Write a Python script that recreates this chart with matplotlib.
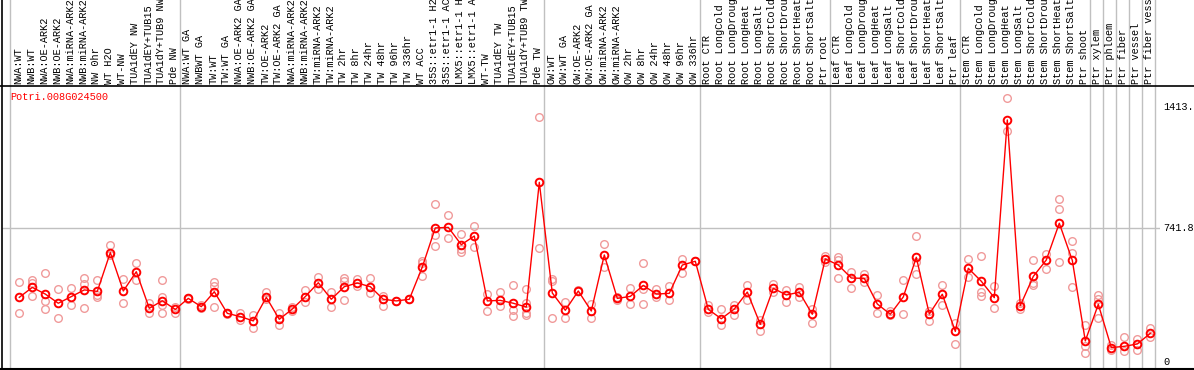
import matplotlib
matplotlib.use('Agg')
import matplotlib.pyplot as plt
from matplotlib.lines import Line2D
import matplotlib.transforms as mtrans

labels = [
    "NWA:WT", "NWB:WT", "NWA:OE-ARK2", "NWB:OE-ARK2", "NWA:miRNA-ARK2", "NWB:miRNA-ARK2",
    "NW 0hr", "WT H2O", "WT-NW", "TUA1dEY NW", "TUA1dEY+TUB15", "TUA1dY+TUB9 NW", "Pde NW",
    "NWA:WT GA", "NWBWT GA", "TW:WT", "TW:WT GA", "NWA:OE-ARK2 GA", "NWB:OE-ARK2 GA",
    "TW:OE-ARK2", "TW:OE-ARK2 GA", "NWA:miRNA-ARK2", "NWB:miRNA-ARK2", "TW:miRNA-ARK2",
    "TW:miRNA-ARK2", "TW 2hr", "TW 8hr", "TW 24hr", "TW 48hr", "TW 96hr", "TW 336hr",
    "WT ACC", "35S::etr1-1 H2", "35S::etr1-1 AC", "LMX5::etr1-1 H", "LMX5::etr1-1 A",
    "WT-TW", "TUA1dEY TW", "TUA1dEY+TUB15", "TUA1dY+TUB9 TW", "Pde TW",
    "OW:WT", "OW:WT GA", "OW:OE-ARK2", "OW:OE-ARK2 GA", "OW:miRNA-ARK2", "OW:miRNA-ARK2",
    "OW 2hr", "OW 8hr", "OW 24hr", "OW 48hr", "OW 96hr", "OW 336hr",
    "Root CTR", "Root LongCold", "Root LongDroug", "Root LongHeat", "Root LongSalt",
    "Root ShortCold", "Root ShortDrou", "Root ShortHeat", "Root ShortSalt", "Ptr root",
    "Leaf CTR", "Leaf LongCold", "Leaf LongDroug", "Leaf LongHeat", "Leaf LongSalt",
    "Leaf ShortCold", "Leaf ShortDrou", "Leaf ShortHeat", "Leaf ShortSalt", "Ptr leaf",
    "Stem CTR", "Stem LongCold", "Stem LongDroug", "Stem LongHeat", "Stem LongSalt",
    "Stem ShortCold", "Stem ShortDrou", "Stem ShortHeat", "Stem ShortSalt", "Ptr shoot",
    "Ptr xylem", "Ptr phloem", "Ptr fiber", "Ptr vessel", "Ptr fiber vess",
]

means = [
    359, 414, 377, 326, 363, 400, 392, 607, 394, 501, 298, 340, 292,
    353, 307, 390, 270, 252, 228, 359, 237, 294, 363, 440, 348, 418, 438, 418,
    348, 339, 348, 527, 744, 747, 651, 699, 339, 342, 326, 305, 997,
    383, 287, 394, 283, 594, 353, 364, 425, 377, 381, 538, 559,
    292, 240, 294, 388, 209, 409, 372, 387, 265, 572,
    538, 466, 464, 322, 265, 361, 581, 266, 376, 170,
    520, 448, 357, 1343, 313, 475, 566, 770, 564, 117,
    320, 80, 87, 100, 159,
]

replicates = [
    [442, 270], [455, 437, 364], [492, 340, 294], [403, 246], [409, 316],
    [464, 431, 302], [453, 372, 363], [649, 594], [459, 326], [549, 455],
    [326, 274], [455, 363, 316, 270], [307, 274],
    [353, 350], [316, 298], [442, 422, 303], [274, 266], [274, 233], [261, 191],
    [387, 348], [270, 203], [307, 285], [400, 331], [474, 405], [387, 307],
    [464, 451, 344], [462, 424], [464, 381], [368, 313], [339, 339], [348, 348],
    [560, 551, 477], [877, 705, 642], [816, 686], [708, 625, 612], [755, 636],
    [377, 283], [388, 311], [427, 289, 255], [403, 329, 270, 261], [1358, 631],
    [462, 451, 242], [333, 244], [400, 394], [324, 242], [655, 525], [363, 344],
    [409, 322], [549, 403, 322], [405, 359], [422, 344], [570, 492], [559, 559],
    [316, 279], [294, 203], [316, 259], [427, 344], [233, 170], [433, 390],
    [400, 331], [418, 359], [294, 216], [590, 553],
    [581, 566, 464], [498, 411], [490, 442], [370, 270], [281, 263], [453, 264],
    [699, 553, 487], [285, 228], [427, 316], [215, 100],
    [570, 470], [588, 390, 368], [424, 298], [1463, 1280], [326, 294],
    [564, 438, 425], [599, 516], [903, 847, 553], [670, 603, 414], [203, 91, 48],
    [372, 350, 242], [94, 67], [139, 63], [129, 67], [190, 137],
]

group_sizes = [13, 28, 12, 10, 10, 10, 1, 1, 1, 1, 1]
ytick_values = [0, 741.8, 1413.0]
ytick_labels = ["0", "741.8", "1413."]
title = "Potri.008G024500"

W, H = 1194, 370
fig = plt.figure(figsize=(W / 100, H / 100), dpi=100)
FONT = dict(family=["Liberation Mono", "DejaVu Sans Mono"], size=7.4)

ax_left_px, ax_right_px = 2, 1160
ax_top_px, ax_bot_px = 85, 369
ax = fig.add_axes([ax_left_px / W, 1 - ax_bot_px / H,
                   (ax_right_px - ax_left_px) / W, (ax_bot_px - ax_top_px) / H])
hax = fig.add_axes([ax_left_px / W, 1 - ax_top_px / H,
                    (ax_right_px - ax_left_px) / W, ax_top_px / H], sharex=ax)

x = list(range(len(means)))
ax.set_xlim((ax_left_px - 19.3) / 13.0, (ax_right_px - 19.3) / 13.0)
ax.set_ylim(-38.8, 1537)
hax.set_ylim(0, 1)
for a in (ax, hax):
    a.set_axis_off()

# group separators
bounds = [-0.69]
c = 0
for g in group_sizes:
    c += g
    bounds.append(c - 1 + 0.38)
for b in bounds:
    ax.axvline(b, color="#c0c0c0", lw=1, zorder=1)
    hax.axvline(b, color="#c0c0c0", lw=1, zorder=1)

# horizontal grid
ax.axhline(741.8, color="#c0c0c0", lw=1, zorder=1)

# replicates
for i, reps in enumerate(replicates):
    ax.plot([i] * len(reps), reps, linestyle="none", marker="o", ms=5.5,
            mfc="none", mec="#f09a9a", mew=1.0, zorder=2)

# mean line
ax.plot(x, means, color="red", lw=1, zorder=3)
ax.plot(x, means, linestyle="none", marker="o", ms=5.5, mfc="none",
        mec="red", mew=1.4, zorder=4)

# header labels
htrans = mtrans.blended_transform_factory(hax.transData, hax.transAxes)
for i, lab in enumerate(labels):
    hax.text(i - 0.08, 1.5 / ax_top_px, lab, rotation=90, ha="center", va="bottom",
             transform=htrans, color="black", **FONT)

# right axis labels
rtrans = mtrans.blended_transform_factory(fig.transFigure, ax.transData)
for v, t in zip(ytick_values, ytick_labels):
    fig.text(1163 / W, v, t, ha="left", va="center", transform=rtrans,
             color="black", **FONT)

# title
fig.text(10 / W, 1 - 97 / H, title, ha="left", va="center", color="red", **FONT)

# border lines
fig.add_artist(Line2D([0, 1], [1 - 85.5 / H, 1 - 85.5 / H], color="black", lw=1.2,
                      transform=fig.transFigure))
fig.add_artist(Line2D([0, 1], [1 - 369 / H, 1 - 369 / H], color="black", lw=1.5,
                      transform=fig.transFigure))
fig.add_artist(Line2D([1.5 / W, 1.5 / W], [0, 1], color="black", lw=1.2,
                      transform=fig.transFigure))

fig.savefig("out.png", dpi=100, facecolor="white")
